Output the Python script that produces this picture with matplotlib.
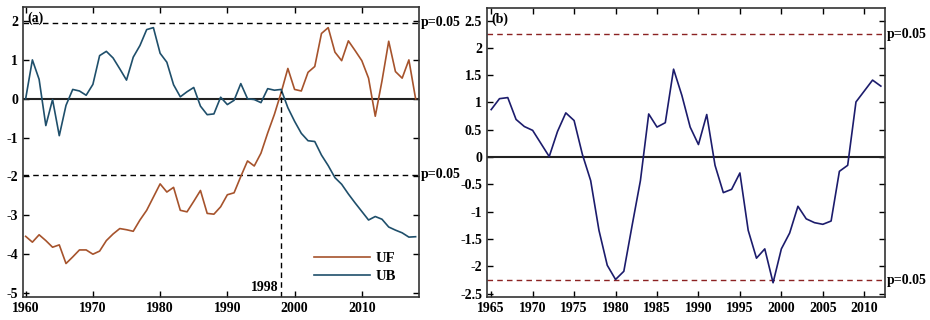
import matplotlib.pyplot as plt

plt.rcParams['font.family'] = 'Liberation Serif'
plt.rcParams['font.weight'] = 'bold'
plt.rcParams['font.size'] = 10
plt.rcParams['axes.unicode_minus'] = False

# panel (a): Mann-Kendall UF / UB, 1960-2018
years_a = list(range(1960, 2019))
uf = [-3.54, -3.69, -3.50, -3.65, -3.82, -3.76, -4.24, -4.07, -3.89, -3.89,
      -4.00, -3.92, -3.65, -3.48, -3.34, -3.37, -3.41, -3.12, -2.87, -2.53,
      -2.19, -2.40, -2.28, -2.87, -2.91, -2.64, -2.36, -2.95, -2.97, -2.78,
      -2.47, -2.42, -2.00, -1.60, -1.73, -1.40, -0.88, -0.40, 0.16, 0.78,
      0.24, 0.20, 0.68, 0.83, 1.68, 1.83, 1.20, 0.98, 1.49, 1.24,
      0.98, 0.53, -0.45, 0.46, 1.48, 0.70, 0.53, 1.00, 0.00]
ub = [0.00, 1.00, 0.50, -0.69, -0.02, -0.95, -0.17, 0.24, 0.20, 0.09,
      0.37, 1.11, 1.22, 1.05, 0.77, 0.48, 1.07, 1.37, 1.78, 1.83,
      1.17, 0.94, 0.36, 0.05, 0.18, 0.29, -0.19, -0.41, -0.39, 0.04,
      -0.15, -0.04, 0.39, 0.00, -0.02, -0.10, 0.26, 0.22, 0.24, -0.23,
      -0.58, -0.89, -1.08, -1.10, -1.45, -1.72, -2.03, -2.20, -2.45, -2.68,
      -2.90, -3.12, -3.03, -3.10, -3.30, -3.38, -3.45, -3.56, -3.55]

# panel (b): 1965-2012
years_b = list(range(1965, 2013))
zb = [0.87, 1.07, 1.09, 0.69, 0.56, 0.49, 0.25, 0.01, 0.47, 0.81,
      0.67, 0.05, -0.43, -1.34, -1.98, -2.24, -2.09, -1.25, -0.43, 0.79,
      0.55, 0.63, 1.61, 1.13, 0.55, 0.23, 0.78, -0.15, -0.65, -0.59,
      -0.29, -1.34, -1.85, -1.68, -2.30, -1.68, -1.39, -0.90, -1.13, -1.20,
      -1.23, -1.17, -0.26, -0.15, 1.01, 1.21, 1.41, 1.30]

fig = plt.figure(figsize=(9.3, 3.2), dpi=100)
ax1 = fig.add_axes([0.0247, 0.072, 0.4258, 0.906])
ax2 = fig.add_axes([0.5237, 0.072, 0.4279, 0.903])

for ax in (ax1, ax2):
    ax.tick_params(direction='in', top=True, right=True, labelright=False,
                   length=4, width=1, labelsize=10)
    for s in ax.spines.values():
        s.set_linewidth(1.2)
        s.set_color('#333333')

# (a)
ax1.axhline(0, color='#222222', lw=1.5)
ax1.axhline(1.96, color='black', lw=1, ls=(0, (4, 3)))
ax1.axhline(-1.96, color='black', lw=1, ls=(0, (4, 3)))
ax1.plot(years_a, uf, color='#a6532c', lw=1.2, label='UF')
ax1.plot(years_a, ub, color='#1f4f6b', lw=1.2, label='UB')
ax1.plot([1998, 1998], [-5.1, 0.2], color='black', lw=1, ls=(0, (4, 3)))
ax1.text(1997.6, -5.03, '1998', ha='right', va='bottom')
ax1.set_xlim(1959.6, 2018.5)
ax1.set_ylim(-5.1, 2.36)
ax1.set_xticks([1960, 1970, 1980, 1990, 2000, 2010])
ax1.set_yticks([-5, -4, -3, -2, -1, 0, 1, 2])
ax1.text(0.01, 0.985, '(a)', transform=ax1.transAxes, ha='left', va='top')
ax1.text(1.005, (1.96 + 5.1) / 7.46, 'p=0.05', transform=ax1.transAxes,
         ha='left', va='center')
ax1.text(1.005, (-1.96 + 5.1) / 7.46, 'p=0.05', transform=ax1.transAxes,
         ha='left', va='center')
ax1.legend(loc='lower right', bbox_to_anchor=(0.975, 0.003), frameon=False,
           handlelength=3.8, handletextpad=0.4, labelspacing=0.3,
           fontsize=10.5)

# (b)
ax2.axhline(0, color='#222222', lw=1.5)
ax2.axhline(2.25, color='#8b2222', lw=1, ls=(0, (4, 3)))
ax2.axhline(-2.25, color='#8b2222', lw=1, ls=(0, (4, 3)))
ax2.plot(years_b, zb, color='#1c1c6c', lw=1.2)
ax2.set_xlim(1964.5, 2012.5)
ax2.set_ylim(-2.56, 2.73)
ax2.set_xticks(list(range(1965, 2011, 5)))
ax2.set_yticks([-2.5, -2, -1.5, -1, -0.5, 0, 0.5, 1, 1.5, 2, 2.5])
ax2.set_yticklabels(['-2.5', '-2', '-1.5', '-1', '-0.5', '0', '0.5', '1',
                     '1.5', '2', '2.5'])
ax2.text(0.01, 0.985, '(b)', transform=ax2.transAxes, ha='left', va='top')
ax2.text(1.005, (2.25 + 2.56) / 5.29, 'p=0.05', transform=ax2.transAxes,
         ha='left', va='center')
ax2.text(1.005, (-2.25 + 2.56) / 5.29, 'p=0.05', transform=ax2.transAxes,
         ha='left', va='center')

fig.savefig('out.png', dpi=100)
